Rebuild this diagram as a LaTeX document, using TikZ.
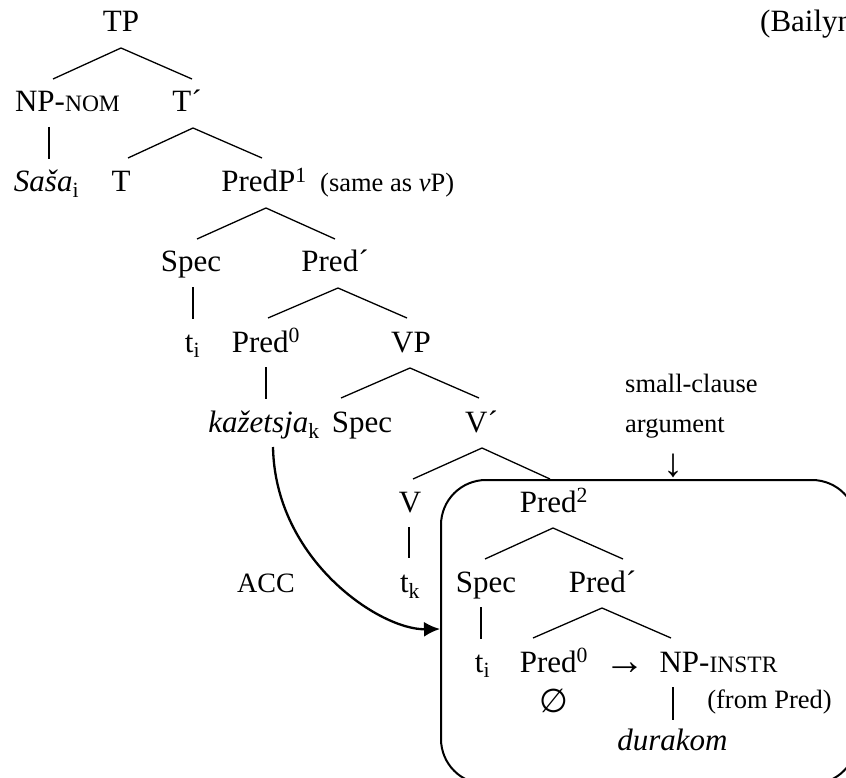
\documentclass[tikz,border=0pt]{standalone}
\usepackage{fontspec}
\setmainfont{Liberation Serif}
\newfontfamily\symfont{DejaVu Sans}
\usetikzlibrary{calc,arrows.meta}
\newcommand\mainsz{\fontsize{31}{36}\selectfont}
\newcommand\smallsz{\fontsize{26.5}{30}\selectfont}
\newcommand\capsz{\fontsize{23.5}{26}\selectfont}
\begin{document}
\begin{tikzpicture}[x=1pt,y=-1pt,
  lbl/.style={anchor=base, inner sep=0pt, font=\mainsz},
  sml/.style={anchor=base, inner sep=0pt, font=\smallsz},
  br/.style={line width=1.3pt},
  curv/.style={line width=2.3pt, -{Latex[length=16pt,width=15pt]}},
  scbox/.style={draw, line width=2pt, rounded corners=45pt, anchor=north west, inner sep=0pt, minimum width=416pt, minimum height=304pt}]
\useasboundingbox (0,0) rectangle (846,778);
\clip (0,0) rectangle (846,778);
% nodes
\node[lbl] (TP) at (121,32) {TP};
\node[lbl, anchor=base west] (bail) at (760,32) {(Bailyn};
\node[lbl] (NPnom) at (67.5,112) {NP-{\capsz NOM}};
\node[lbl] (Tbar) at (187,112) {T´};
\node[lbl] (Sasa) at (46.5,192) {\textit{Saša}\textsubscript{i}};
\node[lbl] (T) at (121,192) {T};
\node[lbl] (PredP) at (264,192) {PredP\textsuperscript{1}};
\node[sml, anchor=base west] (same) at (320,192) {(same as \textit{v}P)};
\node[lbl] (Spec1) at (191,272) {Spec};
\node[lbl] (Predbar1) at (335,272) {Pred´};
\node[lbl] (ti1) at (192.5,352) {t\textsubscript{i}};
\node[lbl] (Pred01) at (266,352) {Pred\textsuperscript{0}};
\node[lbl] (VP) at (411,352) {VP};
\node[lbl] (kaz) at (264,432) {\textit{kažetsja}\textsubscript{k}};
\node[lbl] (Spec2) at (362,432) {Spec};
\node[lbl] (Vbar) at (481.5,432) {V´};
\node[sml, anchor=base west] (smc) at (625,392) {small-clause};
\node[sml, anchor=base west] (arg) at (625,432) {argument};
\node[lbl, font=\fontsize{40}{44}\selectfont] (down) at (673,476) {↓};
\node[lbl] (V) at (410,512) {V};
\node[lbl] (Pred2) at (554,512) {Pred\textsuperscript{2}};
\node[lbl, font=\fontsize{28}{32}\selectfont] (acc) at (266,592) {ACC};
\node[lbl] (tk) at (410,592) {t\textsubscript{k}};
\node[lbl] (Spec3) at (486,592) {Spec};
\node[lbl] (Predbar2) at (602.5,592) {Pred´};
\node[lbl] (ti2) at (482.5,672) {t\textsubscript{i}};
\node[lbl] (Pred02) at (554,672) {Pred\textsuperscript{0}};
\node[lbl, font=\fontsize{41}{44}\selectfont] (arr) at (625,674) {→};
\node[lbl] (npi) at (718.5,672) {NP-{\capsz INSTR}};
\node[lbl, font=\fontsize{33}{36}\selectfont\symfont] (empty) at (554,712) {∅};
\node[sml] (from) at (769.5,708) {(from Pred)};
\node[lbl] (dur) at (672.5,750) {\textit{durakom}};
% small-clause box
\node[scbox] (sc) at (440,479) {};
% branches
\draw[br] ($(TP.base)+(0,16)$) -- ($(NPnom.base)+(-14.5,-33)$);
\draw[br] ($(TP.base)+(0,16)$) -- ($(Tbar.base)+(5,-33)$);
\draw[br] ($(NPnom.base)+(-18.5,15)$) -- ($(Sasa.base)+(2.5,-33)$);
\draw[br] ($(Tbar.base)+(6,16)$) -- ($(T.base)+(7,-34)$);
\draw[br] ($(Tbar.base)+(6,16)$) -- ($(PredP.base)+(-2,-34)$);
\draw[br] ($(PredP.base)+(2,16)$) -- ($(Spec1.base)+(6,-33)$);
\draw[br] ($(PredP.base)+(2,16)$) -- ($(Predbar1.base)+(0,-33)$);
\draw[br] ($(Spec1.base)+(2,15)$) -- ($(ti1.base)+(0.5,-33)$);
\draw[br] ($(Predbar1.base)+(3,16)$) -- ($(Pred01.base)+(2,-34)$);
\draw[br] ($(Predbar1.base)+(3,16)$) -- ($(VP.base)+(-4,-34)$);
\draw[br] ($(Pred01.base)+(0,15)$) -- ($(kaz.base)+(2,-33)$);
\draw[br] ($(VP.base)+(-1,16)$) -- ($(Spec2.base)+(-21,-34)$);
\draw[br] ($(VP.base)+(-1,16)$) -- ($(Vbar.base)+(-2.5,-34)$);
\draw[br] ($(Vbar.base)+(0.5,16)$) -- ($(V.base)+(3,-33)$);
\draw[br] ($(Vbar.base)+(0.5,16)$) -- ($(Pred2.base)+(-4,-33)$);
\draw[br] ($(V.base)+(-1,15)$) -- ($(tk.base)+(-1,-34)$);
\draw[br] ($(Pred2.base)+(-1,16)$) -- ($(Spec3.base)+(-1,-33)$);
\draw[br] ($(Pred2.base)+(-1,16)$) -- ($(Predbar2.base)+(20.5,-33)$);
\draw[br] ($(Spec3.base)+(-5,15)$) -- ($(ti2.base)+(-1.5,-33)$);
\draw[br] ($(Predbar2.base)+(-0.5,16)$) -- ($(Pred02.base)+(-21,-34)$);
\draw[br] ($(Predbar2.base)+(-0.5,16)$) -- ($(npi.base)+(-47.5,-34)$);
\draw[br] ($(npi.base)+(-45.5,15)$) -- ($(dur.base)+(0.5,-30)$);
% ACC curve
\draw[curv] ($(kaz.base)+(9,15)$) .. controls (275,560) and (380,630) .. ($(sc.north west)+(0,150)$);
\end{tikzpicture}
\end{document}
